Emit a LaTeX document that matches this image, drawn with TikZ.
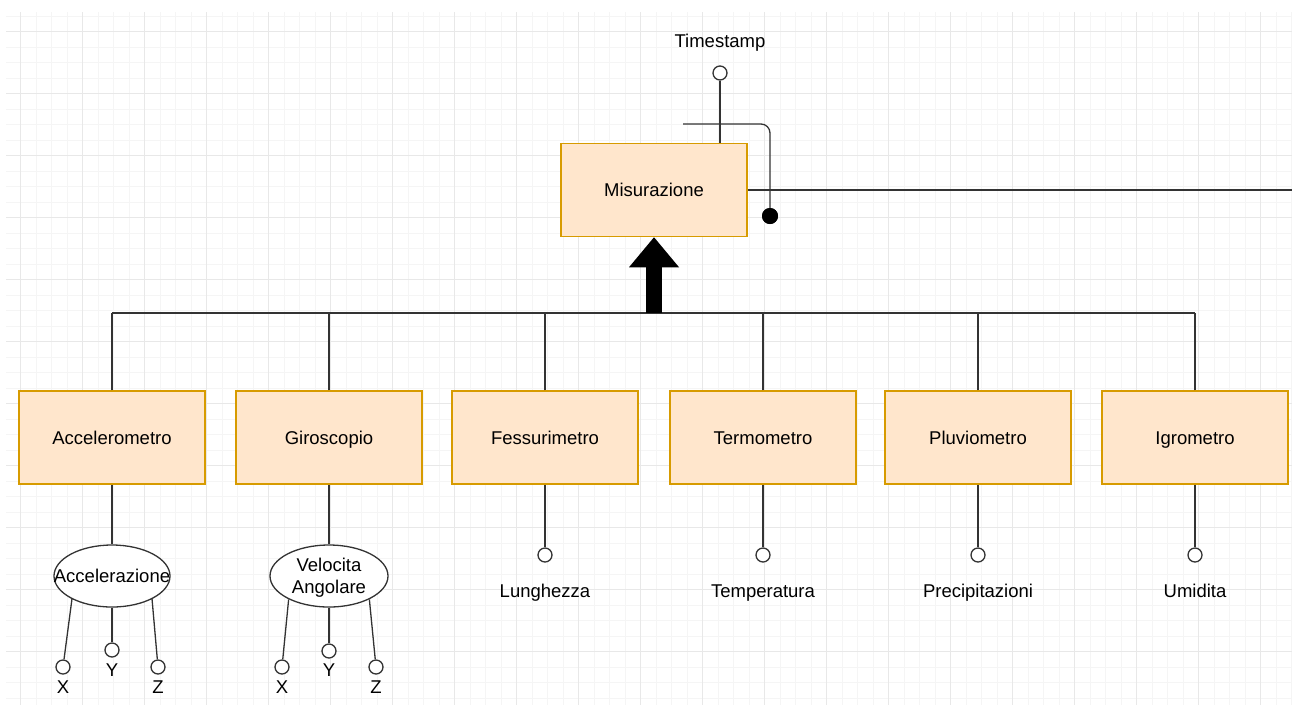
\documentclass[tikz,border=0pt]{standalone}
\usepackage{fontspec}
\setmainfont{Liberation Sans}
\usetikzlibrary{shapes.geometric,arrows.meta}
\definecolor{boxfill}{HTML}{FFE6CC}
\definecolor{boxline}{HTML}{D79B00}
\definecolor{lnk}{HTML}{333333}
\definecolor{gridminor}{HTML}{F5F5F5}
\definecolor{gridmajor}{HTML}{E8E8E8}
\begin{document}
\begin{tikzpicture}[x=1pt,y=-1pt,
 font=\fontsize{18.5}{22}\selectfont,
 entity/.style={draw=boxline,fill=boxfill,line width=1.5pt,minimum width=186pt,minimum height=93pt,inner sep=0pt,text height=17.2pt,text depth=4pt},
 attr/.style={circle,draw=lnk,fill=white,line width=1.3pt,minimum size=14pt,inner sep=0pt},
 dotend/.style={circle,fill=black,minimum size=16pt,inner sep=0pt},
 comp/.style={ellipse,draw=lnk,fill=white,line width=1.3pt,inner sep=0pt},
 lbl/.style={inner sep=0pt,text height=17.2pt,text depth=4pt},
 mlbl/.style={inner sep=0pt,align=center},
 conn/.style={draw=lnk,line width=1.3pt}]
\useasboundingbox (0,0) rectangle (1292,705);
\fill[white] (0,0) rectangle (1292,705);
\begin{scope}
\clip (6,12) rectangle (1292,705);
\foreach \i in {0,...,83} \draw[gridminor,line width=1pt] ({5.2+15.5*\i},12) -- ({5.2+15.5*\i},705);
\foreach \i in {0,...,45} \draw[gridminor,line width=1pt] (6,{16.2+15.5*\i}) -- (1292,{16.2+15.5*\i});
\foreach \i in {0,...,20} \draw[gridmajor,line width=1pt] ({20.7+62*\i},12) -- ({20.7+62*\i},705);
\foreach \i in {0,...,11} \draw[gridmajor,line width=1pt] (6,{31.7+62*\i}) -- (1292,{31.7+62*\i});
\end{scope}

% main entity
\node[entity] (mis) at (654,190) {Misurazione};

% timestamp attribute
\node[lbl] (tsl) at (720,41) {Timestamp};
\node[attr] (ts) at (720,73) {};
\draw[conn] (ts) -- (ts |- mis.north);

% identifier line with dot
\coordinate (c1) at (683,124);
\node[dotend] (dot) at (770,216) {};
\draw[conn,rounded corners=9pt] (c1) -- (c1 -| dot) -- (dot.center);
\node[dotend] at (dot) {};

% relation to the right
\coordinate (rend) at (1292,190);
\draw[conn] (mis.east) -- (rend);

% sub entities
\node[entity] (acc) at (112,437.5) {Accelerometro};
\node[entity] (gir) at (329,437.5) {Giroscopio};
\node[entity] (fes) at (545,437.5) {Fessurimetro};
\node[entity] (ter) at (763,437.5) {Termometro};
\node[entity] (plu) at (978,437.5) {Pluviometro};
\node[entity] (igr) at (1195,437.5) {Igrometro};

% generalisation bus
\coordinate (bus) at (654,313);
\draw[conn] (acc.north |- bus) -- (igr.north |- bus);
\foreach \b in {acc,gir,fes,ter,plu,igr} \draw[conn] (\b.north) -- (\b.north |- bus);
\draw[black,line width=16pt,-{Triangle[width=50pt,length=30pt,line width=0pt]}] (bus) -- (mis.south);

% simple attributes
\foreach \b/\t in {fes/Lunghezza,ter/Temperatura,plu/Precipitazioni,igr/Umidita}{
  \node[attr] (\b-a) at (\b.south |- 0,555) {};
  \node[lbl] (\b-l) at (\b.south |- 0,591) {\t};
  \draw[conn] (\b.south) -- (\b-a);
}

% composite attributes
\node[comp,minimum width=116pt,minimum height=62pt,label={[lbl]center:Accelerazione}] (acce) at (112,576) {};
\node[comp,minimum width=118pt,minimum height=62pt,label={[mlbl,yshift=-2pt]center:{Velocita\\Angolare}}] (vel) at (329,576) {};
\draw[conn] (acc.south) -- (acce.north);
\draw[conn] (gir.south) -- (vel.north);

\node[attr] (ax) at (63,667) {};
\node[attr] (ay) at (112,650) {};
\node[attr] (az) at (158,667) {};
\node[lbl] (axl) at (63,687) {X};
\node[lbl] (ayl) at (112,670) {Y};
\node[lbl] (azl) at (158,687) {Z};
\draw[conn] (acce.210) -- (ax);
\draw[conn] (acce.south) -- (ay);
\draw[conn] (acce.330) -- (az);

\node[attr] (vx) at (282,667) {};
\node[attr] (vy) at (329,651) {};
\node[attr] (vz) at (376,667) {};
\node[lbl] (vxl) at (282,687) {X};
\node[lbl] (vyl) at (329,670) {Y};
\node[lbl] (vzl) at (376,687) {Z};
\draw[conn] (vel.210) -- (vx);
\draw[conn] (vel.south) -- (vy);
\draw[conn] (vel.330) -- (vz);
\end{tikzpicture}
\end{document}
